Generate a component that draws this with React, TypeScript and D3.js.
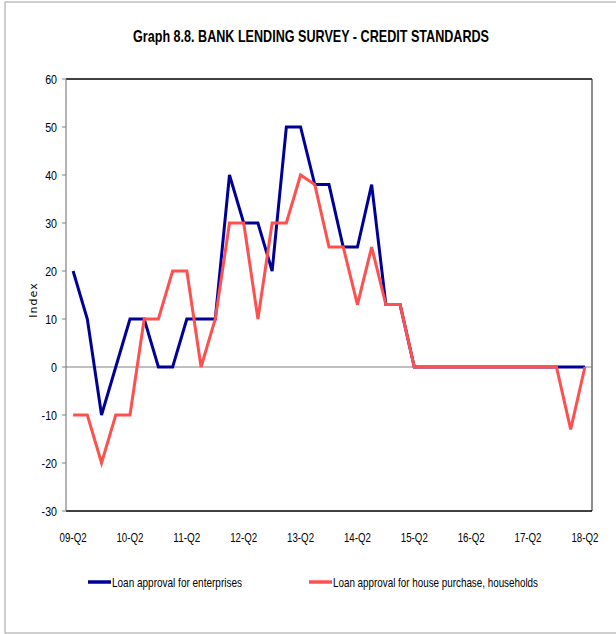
import React from "react";
import * as d3 from "d3";

const quarters: string[] = [];
const years = ["09", "10", "11", "12", "13", "14", "15", "16", "17", "18"];
const qs = ["Q2", "Q3", "Q4", "Q1"];
for (let y = 0; y < years.length; y++) {
  for (let q = 0; q < 4; q++) {
    if (y === years.length - 1 && q > 0) break;
    const yr = q === 3 ? years[y + 1] : years[y];
    quarters.push(`${yr}-${qs[q]}`);
  }
}

const enterprises = [
  20, 10, -10, 0, 10, 10, 0, 0, 10, 10, 10, 40, 30, 30, 20, 50, 50, 38, 38, 25,
  25, 38, 13, 13, 0, 0, 0, 0, 0, 0, 0, 0, 0, 0, 0, 0, 0,
];
const households = [
  -10, -10, -20, -10, -10, 10, 10, 20, 20, 0, 10, 30, 30, 10, 30, 30, 40, 38, 25, 25,
  13, 25, 13, 13, 0, 0, 0, 0, 0, 0, 0, 0, 0, 0, 0, -13, 0,
];
const yTicks = [-30, -20, -10, 0, 10, 20, 30, 40, 50, 60];
const xTickLabels = ["09-Q2", "10-Q2", "11-Q2", "12-Q2", "13-Q2", "14-Q2", "15-Q2", "16-Q2", "17-Q2", "18-Q2"];
const seriesNames = ["Loan approval for enterprises", "Loan approval for house purchase, households"];
const colors = ["#000099", "#FF5050"];

const W = 616, H = 634;
const L = 66, R = 592, T = 79, B = 511;
const font = "'Liberation Sans Narrow', 'Arial Narrow', 'Liberation Sans', sans-serif";

export default function App() {
  const x = d3.scalePoint<string>().domain(quarters).range([L, R]).padding(0.5);
  const y = d3.scaleLinear().domain([-30, 60]).range([B, T]);
  const line = d3
    .line<number>()
    .x((_, i) => x(quarters[i]) as number)
    .y((d) => y(d));

  return (
    <svg width={W} height={H} style={{ position: "absolute", left: 0, top: 0 }}>
      <rect x={0} y={0} width={W} height={H} fill="#fff" />
      <rect x={5} y={2} width={W + 10} height={631} fill="none" stroke="#a0a0a0" strokeWidth={1} />
      <text x={311} y={42} textAnchor="middle" fontFamily={font} fontWeight="bold" fontSize={17} textLength={356} lengthAdjust="spacingAndGlyphs" fill="#000">
        Graph 8.8. BANK LENDING SURVEY - CREDIT STANDARDS
      </text>
      {/* plot frame */}
      <line x1={L} x2={R} y1={T} y2={T} stroke="#000" strokeWidth={1.5} />
      <line x1={R} x2={R} y1={T} y2={B} stroke="#404040" strokeWidth={1.2} />
      <line x1={L} x2={R} y1={B} y2={B} stroke="#000" strokeWidth={1.5} />
      <line x1={L} x2={L} y1={T} y2={B} stroke="#808080" strokeWidth={1.2} />
      <line x1={L} x2={R} y1={y(0)} y2={y(0)} stroke="#808080" strokeWidth={1} />
      {yTicks.map((t) => (
        <g key={t}>
          <line x1={L - 4} x2={L} y1={y(t)} y2={y(t)} stroke="#808080" strokeWidth={1} />
          <g transform={`translate(57,${y(t) + 4.5}) scale(0.82,1)`}>
            <text x={0} y={0} textAnchor="end" fontFamily={font} fontSize={13} fill="#000">
              {t}
            </text>
          </g>
        </g>
      ))}
      {xTickLabels.map((lab) => (
        <text key={lab} x={x(lab) as number} y={542} textAnchor="middle" fontFamily={font} fontSize={13} textLength={27} lengthAdjust="spacingAndGlyphs" fill="#000">
          {lab}
        </text>
      ))}
      <text transform={`translate(37,300) rotate(-90)`} textAnchor="middle" fontFamily="'DejaVu Sans', sans-serif" fontSize={11} letterSpacing={1} fill="#000">
        Index
      </text>
      <path d={line(enterprises) || ""} fill="none" stroke={colors[0]} strokeWidth={3} strokeLinejoin="miter" />
      <path d={line(households) || ""} fill="none" stroke={colors[1]} strokeWidth={3} strokeLinejoin="miter" />
      {/* legend */}
      <line x1={88} x2={111} y1={582} y2={582} stroke={colors[0]} strokeWidth={3.5} />
      <text x={112} y={586.5} fontFamily={font} fontSize={13} textLength={130} lengthAdjust="spacingAndGlyphs" fill="#000">
        {seriesNames[0]}
      </text>
      <line x1={309} x2={332} y1={582} y2={582} stroke={colors[1]} strokeWidth={3.5} />
      <text x={333} y={586.5} fontFamily={font} fontSize={13} textLength={205} lengthAdjust="spacingAndGlyphs" fill="#000">
        {seriesNames[1]}
      </text>
    </svg>
  );
}
